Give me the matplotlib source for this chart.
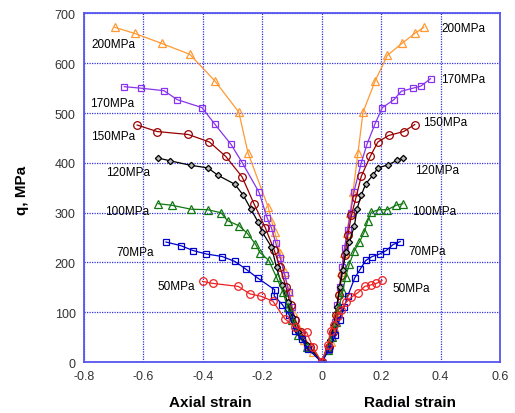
import matplotlib
matplotlib.use("Agg")
import matplotlib.pyplot as plt

plt.rcParams['font.family'] = ['Liberation Sans', 'DejaVu Sans']

# confining pressure labels
labels = ["200MPa", "170MPa", "150MPa", "120MPa", "100MPa", "70MPa", "50MPa"]

# axial strain (negative) and q for each test
ax200_x = [-0.696, -0.629, -0.539, -0.444, -0.36, -0.279, -0.248, -0.18, -0.169, -0.158, -0.14, -0.125, -0.11, -0.095, -0.08, -0.06, -0.03, 0]
ax200_q = [672, 660, 640, 618, 565, 502, 420, 311, 284, 261, 220, 180, 140, 100, 70, 45, 20, 0]
ax170_x = [-0.664, -0.608, -0.531, -0.486, -0.403, -0.36, -0.305, -0.267, -0.211, -0.184, -0.169, -0.155, -0.14, -0.125, -0.11, -0.1, -0.09, -0.07, -0.05, 0]
ax170_q = [553, 550, 545, 527, 511, 478, 437, 400, 341, 290, 269, 240, 210, 175, 140, 110, 85, 55, 30, 0]
ax150_x = [-0.621, -0.554, -0.449, -0.378, -0.323, -0.268, -0.228, -0.19, -0.16, -0.14, -0.12, -0.105, -0.09, -0.07, -0.04, 0]
ax150_q = [476, 463, 457, 442, 413, 372, 318, 270, 225, 190, 150, 115, 85, 60, 30, 0]
ax120_x = [-0.552, -0.509, -0.44, -0.383, -0.349, -0.292, -0.264, -0.239, -0.214, -0.2, -0.169, -0.152, -0.135, -0.115, -0.1, -0.08, -0.05, 0]
ax120_q = [410, 404, 395, 390, 375, 357, 335, 308, 281, 261, 231, 190, 155, 120, 90, 60, 35, 0]
ax100_x = [-0.55, -0.505, -0.44, -0.384, -0.339, -0.317, -0.279, -0.251, -0.223, -0.208, -0.178, -0.152, -0.13, -0.115, -0.1, -0.08, -0.05, 0]
ax100_q = [318, 315, 307, 306, 300, 284, 274, 259, 237, 220, 204, 170, 140, 110, 85, 55, 30, 0]
ax70_x = [-0.524, -0.475, -0.433, -0.388, -0.335, -0.292, -0.256, -0.216, -0.158, -0.16, -0.132, -0.11, -0.091, -0.068, -0.046, 0]
ax70_q = [241, 234, 224, 217, 212, 202, 187, 169, 145, 133, 115, 95, 63, 46, 26, 0]
ax50_x = [-0.401, -0.367, -0.281, -0.242, -0.203, -0.164, -0.124, -0.09, -0.051, -0.03, 0]
ax50_q = [162, 158, 152, 137, 132, 122, 87, 70, 60, 30, 0]

# radial strain (positive) and q
rd200_x = [0.343, 0.313, 0.27, 0.221, 0.18, 0.139, 0.122, 0.105, 0.095, 0.085, 0.075, 0.065, 0.058, 0.05, 0.04, 0.03, 0]
rd200_q = [672, 660, 640, 616, 565, 502, 420, 341, 300, 260, 220, 180, 140, 100, 70, 40, 0]
rd170_x = [0.366, 0.333, 0.307, 0.268, 0.243, 0.204, 0.179, 0.152, 0.133, 0.108, 0.097, 0.087, 0.077, 0.068, 0.06, 0.052, 0.043, 0.033, 0.02, 0]
rd170_q = [569, 554, 550, 544, 527, 511, 478, 437, 400, 341, 300, 265, 230, 190, 150, 115, 80, 50, 25, 0]
rd150_x = [0.313, 0.276, 0.225, 0.189, 0.164, 0.133, 0.115, 0.1, 0.088, 0.078, 0.068, 0.058, 0.048, 0.038, 0.025, 0]
rd150_q = [477, 463, 455, 442, 414, 373, 330, 295, 255, 215, 175, 135, 95, 60, 30, 0]
rd120_x = [0.273, 0.253, 0.223, 0.189, 0.172, 0.148, 0.133, 0.119, 0.11, 0.093, 0.082, 0.07, 0.06, 0.05, 0.04, 0.028, 0]
rd120_q = [410, 405, 396, 390, 375, 358, 335, 308, 274, 241, 221, 185, 150, 110, 75, 45, 0]
rd100_x = [0.273, 0.251, 0.221, 0.192, 0.167, 0.155, 0.143, 0.127, 0.11, 0.093, 0.08, 0.07, 0.058, 0.048, 0.035, 0.02, 0]
rd100_q = [318, 315, 306, 306, 301, 284, 261, 241, 224, 197, 170, 140, 110, 80, 50, 25, 0]
rd70_x = [0.264, 0.24, 0.217, 0.195, 0.17, 0.148, 0.13, 0.111, 0.087, 0.075, 0.06, 0.045, 0.026, 0]
rd70_q = [242, 236, 224, 217, 212, 204, 187, 169, 132, 110, 85, 55, 26, 0]
rd50_x = [0.203, 0.184, 0.166, 0.145, 0.121, 0.099, 0.082, 0.065, 0.054, 0.04, 0.031, 0.02, 0]
rd50_q = [164, 158, 155, 152, 139, 130, 120, 105, 93, 75, 63, 35, 0]

axial = [(ax200_x, ax200_q), (ax170_x, ax170_q), (ax150_x, ax150_q), (ax120_x, ax120_q),
         (ax100_x, ax100_q), (ax70_x, ax70_q), (ax50_x, ax50_q)]
radial = [(rd200_x, rd200_q), (rd170_x, rd170_q), (rd150_x, rd150_q), (rd120_x, rd120_q),
          (rd100_x, rd100_q), (rd70_x, rd70_q), (rd50_x, rd50_q)]

colors = ['#FF9933', '#8833EE', '#990000', '#000000', '#117711', '#0000CC', '#EE2222']
markers = ['^', 's', 'o', 'D', '^', 's', 'o']
faces = ['none', 'none', 'none', '#BBBBBB', 'none', 'none', 'none']
msizes = [5.5, 5, 5.5, 3.2, 5.5, 5, 5.5]

# label anchor points (left edge of text)
left_lab_x = [-0.776, -0.78, -0.776, -0.726, -0.729, -0.69, -0.551]
left_lab_y = [638, 521, 453, 382, 304, 221, 153]
right_lab_x = [0.403, 0.403, 0.34, 0.313, 0.303, 0.292, 0.239]
right_lab_y = [670, 569, 483, 386, 304, 223, 149]

fig = plt.figure(figsize=(5.15, 4.14), dpi=100)
ax = fig.add_axes([0.163, 0.123, 0.808, 0.842])

for i in range(len(labels)):
    for (xs, qs) in (axial[i], radial[i]):
        ax.plot(xs, qs, color=colors[i], marker=markers[i], mfc=faces[i], mec=colors[i],
                ms=msizes[i], mew=0.9, lw=0.9)
    ax.text(left_lab_x[i], left_lab_y[i], labels[i], fontsize=8.5, va='center', ha='left')
    ax.text(right_lab_x[i], right_lab_y[i], labels[i], fontsize=8.5, va='center', ha='left')

ax.set_xlim(-0.8, 0.6)
ax.set_ylim(0, 700)
ax.set_xticks([-0.8, -0.6, -0.4, -0.2, 0, 0.2, 0.4, 0.6])
ax.set_xticklabels(['-0.8', '-0.6', '-0.4', '-0.2', '0', '0.2', '0.4', '0.6'])
ax.set_yticks(range(0, 701, 100))
ax.tick_params(length=0, labelsize=9, pad=6, colors='#333333')
ax.grid(True, color='#3333DD', linestyle=(0, (1, 1)), linewidth=0.9)
for s in ax.spines.values():
    s.set_color('#5555EE')
    s.set_linewidth(1.3)

fig.text(0.408, 0.027, 'Axial strain', fontsize=11, fontweight='bold', ha='center', va='center')
fig.text(0.797, 0.027, 'Radial strain', fontsize=11, fontweight='bold', ha='center', va='center')
fig.text(0.043, 0.54, 'q, MPa', fontsize=11, fontweight='bold', ha='center', va='center', rotation=90)

fig.savefig('out.png', dpi=100)
